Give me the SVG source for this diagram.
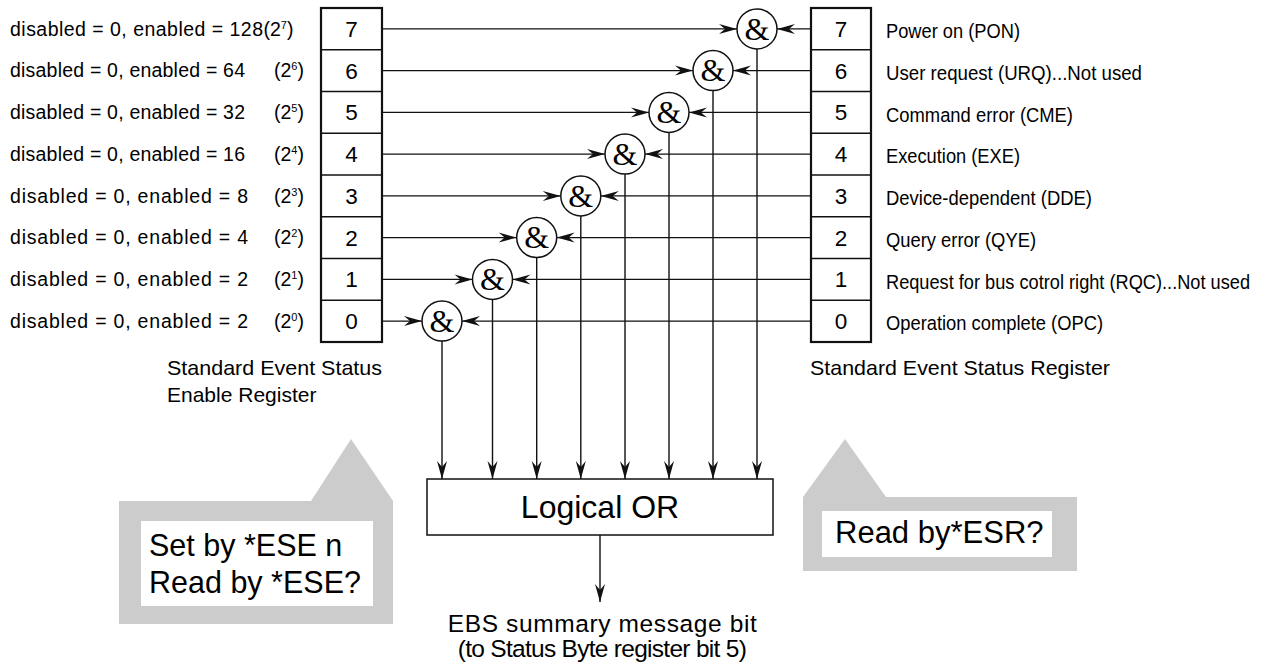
<svg xmlns="http://www.w3.org/2000/svg" width="1273" height="667" viewBox="0 0 1273 667">
<style>
text{font-family:"Liberation Sans",Arial,sans-serif;fill:#000}
.reg{fill:#fff;stroke:#111;stroke-width:2.2}
.div{stroke:#111;stroke-width:1.3}
.num{font-size:22.5px;text-anchor:middle}
.lbl{font-size:19.5px}
.sup{font-size:11px}
.rl{font-size:20.5px}
.cap{font-size:21px}
.ln{fill:none;stroke:#111;stroke-width:1.4}
.gate circle{fill:#fff;stroke:#111;stroke-width:1.5}
.amp{font-family:"Liberation Serif","Times New Roman",serif;font-size:32px;text-anchor:middle}
.bub{fill:#cccccc}
.inner{fill:#fff}
.big{font-size:30.5px}
</style>
<defs>
<marker id="ah" viewBox="-19 -6 20 12" refX="0" refY="0" markerWidth="20" markerHeight="12" orient="auto" markerUnits="userSpaceOnUse">
<path d="M0,0 L-18,-5 L-12,0 L-18,5 Z" fill="#111"/>
</marker>
</defs>

<g id="enable-labels">
<text class="lbl" x="10" y="35.6" textLength="253" lengthAdjust="spacing">disabled = 0, enabled = 128</text>
<text class="lbl" x="263.5" y="35.6">(2<tspan class="sup" dy="-7">7</tspan><tspan dy="7">)</tspan></text>

<text class="lbl" x="10" y="77.3" textLength="235" lengthAdjust="spacing">disabled = 0, enabled = 64</text>
<text class="lbl" x="274" y="77.3">(2<tspan class="sup" dy="-7">6</tspan><tspan dy="7">)</tspan></text>

<text class="lbl" x="10" y="119.1" textLength="235" lengthAdjust="spacing">disabled = 0, enabled = 32</text>
<text class="lbl" x="274" y="119.1">(2<tspan class="sup" dy="-7">5</tspan><tspan dy="7">)</tspan></text>

<text class="lbl" x="10" y="160.8" textLength="235" lengthAdjust="spacing">disabled = 0, enabled = 16</text>
<text class="lbl" x="274" y="160.8">(2<tspan class="sup" dy="-7">4</tspan><tspan dy="7">)</tspan></text>

<text class="lbl" x="10" y="202.6" textLength="238" lengthAdjust="spacing">disabled = 0, enabled = 8</text>
<text class="lbl" x="274" y="202.6">(2<tspan class="sup" dy="-7">3</tspan><tspan dy="7">)</tspan></text>

<text class="lbl" x="10" y="244.3" textLength="238" lengthAdjust="spacing">disabled = 0, enabled = 4</text>
<text class="lbl" x="274" y="244.3">(2<tspan class="sup" dy="-7">2</tspan><tspan dy="7">)</tspan></text>

<text class="lbl" x="10" y="286.1" textLength="238" lengthAdjust="spacing">disabled = 0, enabled = 2</text>
<text class="lbl" x="274" y="286.1">(2<tspan class="sup" dy="-7">1</tspan><tspan dy="7">)</tspan></text>

<text class="lbl" x="10" y="327.8" textLength="238" lengthAdjust="spacing">disabled = 0, enabled = 2</text>
<text class="lbl" x="274" y="327.8">(2<tspan class="sup" dy="-7">0</tspan><tspan dy="7">)</tspan></text>
</g>

<g id="enable-register">
<rect class="reg" x="321" y="8" width="61" height="334"/>
<line class="div" x1="321" y1="49.75" x2="382" y2="49.75"/>
<line class="div" x1="321" y1="91.5" x2="382" y2="91.5"/>
<line class="div" x1="321" y1="133.25" x2="382" y2="133.25"/>
<line class="div" x1="321" y1="175" x2="382" y2="175"/>
<line class="div" x1="321" y1="216.75" x2="382" y2="216.75"/>
<line class="div" x1="321" y1="258.5" x2="382" y2="258.5"/>
<line class="div" x1="321" y1="300.25" x2="382" y2="300.25"/>
<text class="num" x="351.5" y="36.9">7</text>
<text class="num" x="351.5" y="78.6">6</text>
<text class="num" x="351.5" y="120.4">5</text>
<text class="num" x="351.5" y="162.1">4</text>
<text class="num" x="351.5" y="203.9">3</text>
<text class="num" x="351.5" y="245.6">2</text>
<text class="num" x="351.5" y="287.4">1</text>
<text class="num" x="351.5" y="329.1">0</text>
<text class="cap" x="167" y="375" textLength="215" lengthAdjust="spacingAndGlyphs">Standard Event Status</text>
<text class="cap" x="167" y="401.7">Enable Register</text>
</g>

<g id="status-register">
<rect class="reg" x="811" y="8" width="60" height="334"/>
<line class="div" x1="811" y1="49.75" x2="871" y2="49.75"/>
<line class="div" x1="811" y1="91.5" x2="871" y2="91.5"/>
<line class="div" x1="811" y1="133.25" x2="871" y2="133.25"/>
<line class="div" x1="811" y1="175" x2="871" y2="175"/>
<line class="div" x1="811" y1="216.75" x2="871" y2="216.75"/>
<line class="div" x1="811" y1="258.5" x2="871" y2="258.5"/>
<line class="div" x1="811" y1="300.25" x2="871" y2="300.25"/>
<text class="num" x="841" y="36.9">7</text>
<text class="num" x="841" y="78.6">6</text>
<text class="num" x="841" y="120.4">5</text>
<text class="num" x="841" y="162.1">4</text>
<text class="num" x="841" y="203.9">3</text>
<text class="num" x="841" y="245.6">2</text>
<text class="num" x="841" y="287.4">1</text>
<text class="num" x="841" y="329.1">0</text>
<text class="cap" x="810" y="375" textLength="300" lengthAdjust="spacingAndGlyphs">Standard Event Status Register</text>
</g>

<g id="status-labels">
<text class="rl" x="886" y="38" textLength="134" lengthAdjust="spacingAndGlyphs">Power on (PON)</text>
<text class="rl" x="886" y="79.7" textLength="256" lengthAdjust="spacingAndGlyphs">User request (URQ)...Not used</text>
<text class="rl" x="886" y="121.5" textLength="187" lengthAdjust="spacingAndGlyphs">Command error (CME)</text>
<text class="rl" x="886" y="163.2" textLength="134" lengthAdjust="spacingAndGlyphs">Execution (EXE)</text>
<text class="rl" x="886" y="205" textLength="206" lengthAdjust="spacingAndGlyphs">Device-dependent (DDE)</text>
<text class="rl" x="886" y="246.7" textLength="150" lengthAdjust="spacingAndGlyphs">Query error (QYE)</text>
<text class="rl" transform="translate(886 288.5) scale(0.89 1)" x="0" y="0" textLength="409" lengthAdjust="spacingAndGlyphs">Request for bus cotrol right (RQC)...Not used</text>
<text class="rl" x="886" y="330.2" textLength="217" lengthAdjust="spacingAndGlyphs">Operation complete (OPC)</text>
</g>

<g id="connectors">
<path class="ln" marker-end="url(#ah)" d="M382,28.9 H737"/>
<path class="ln" marker-end="url(#ah)" d="M811,28.9 H777"/>
<path class="ln" marker-end="url(#ah)" d="M382,70.6 H693"/>
<path class="ln" marker-end="url(#ah)" d="M811,70.6 H733"/>
<path class="ln" marker-end="url(#ah)" d="M382,112.4 H649"/>
<path class="ln" marker-end="url(#ah)" d="M811,112.4 H689"/>
<path class="ln" marker-end="url(#ah)" d="M382,154.1 H605"/>
<path class="ln" marker-end="url(#ah)" d="M811,154.1 H645"/>
<path class="ln" marker-end="url(#ah)" d="M382,195.9 H560.8"/>
<path class="ln" marker-end="url(#ah)" d="M811,195.9 H600.8"/>
<path class="ln" marker-end="url(#ah)" d="M382,237.6 H516.7"/>
<path class="ln" marker-end="url(#ah)" d="M811,237.6 H556.7"/>
<path class="ln" marker-end="url(#ah)" d="M382,279.4 H472.5"/>
<path class="ln" marker-end="url(#ah)" d="M811,279.4 H512.5"/>
<path class="ln" marker-end="url(#ah)" d="M382,321.1 H422"/>
<path class="ln" marker-end="url(#ah)" d="M811,321.1 H462"/>
<path class="ln" marker-end="url(#ah)" d="M757,48.9 V479"/>
<path class="ln" marker-end="url(#ah)" d="M713,90.6 V479"/>
<path class="ln" marker-end="url(#ah)" d="M669,132.4 V479"/>
<path class="ln" marker-end="url(#ah)" d="M625,174.1 V479"/>
<path class="ln" marker-end="url(#ah)" d="M580.8,215.9 V479"/>
<path class="ln" marker-end="url(#ah)" d="M536.7,257.6 V479"/>
<path class="ln" marker-end="url(#ah)" d="M492.5,299.4 V479"/>
<path class="ln" marker-end="url(#ah)" d="M442,341.1 V479"/>
<path class="ln" marker-end="url(#ah)" d="M600,535 V602"/>
</g>

<g id="gate-7" class="gate"><circle cx="757" cy="28.9" r="20"/><text class="amp" x="757" y="39.6">&amp;</text></g>
<g id="gate-6" class="gate"><circle cx="713" cy="70.6" r="20"/><text class="amp" x="713" y="81.3">&amp;</text></g>
<g id="gate-5" class="gate"><circle cx="669" cy="112.4" r="20"/><text class="amp" x="669" y="123.1">&amp;</text></g>
<g id="gate-4" class="gate"><circle cx="625" cy="154.1" r="20"/><text class="amp" x="625" y="164.8">&amp;</text></g>
<g id="gate-3" class="gate"><circle cx="580.8" cy="195.9" r="20"/><text class="amp" x="580.8" y="206.6">&amp;</text></g>
<g id="gate-2" class="gate"><circle cx="536.7" cy="237.6" r="20"/><text class="amp" x="536.7" y="248.3">&amp;</text></g>
<g id="gate-1" class="gate"><circle cx="492.5" cy="279.4" r="20"/><text class="amp" x="492.5" y="290.1">&amp;</text></g>
<g id="gate-0" class="gate"><circle cx="442" cy="321.1" r="20"/><text class="amp" x="442" y="331.8">&amp;</text></g>

<g id="logical-or">
<rect x="427" y="479" width="346" height="56" fill="#fff" stroke="#111" stroke-width="1.5"/>
<text x="600" y="518" font-size="32" text-anchor="middle">Logical OR</text>
</g>

<g id="ebs-output">
<text x="602.3" y="632" font-size="24.5" text-anchor="middle" textLength="309" lengthAdjust="spacing">EBS summary message bit</text>
<text x="602.3" y="657" font-size="24.5" text-anchor="middle" textLength="289" lengthAdjust="spacing">(to Status Byte register bit 5)</text>
</g>

<g id="ese-bubble">
<polygon class="bub" points="119,501 311,501 351,439 393,501 393,624 119,624"/>
<rect class="inner" x="141" y="521" width="232" height="85"/>
<text class="big" x="149" y="556">Set by *ESE n</text>
<text class="big" x="149" y="593">Read by *ESE?</text>
</g>

<g id="esr-bubble">
<polygon class="bub" points="803,497 845,439 886,497 1077,497 1077,571 803,571"/>
<rect class="inner" x="822" y="511" width="230" height="46"/>
<text x="835" y="543" font-size="31">Read by*ESR?</text>
</g>
</svg>
